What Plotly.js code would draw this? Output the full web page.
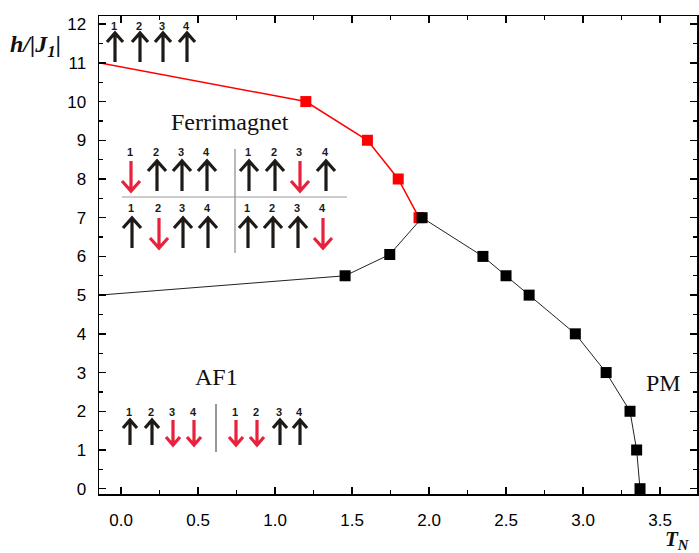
<!DOCTYPE html>
<html>
<head>
<meta charset="utf-8">
<script src="https://cdn.plot.ly/plotly-3.0.1.min.js"></script>
<style>html,body{margin:0;padding:0;background:#fff;}#chart{width:699px;height:553px;}</style>
</head>
<body>
<div id="chart"></div>
<script>
// ---- data ----
const redT   = [-0.143, 1.2, 1.6, 1.8, 1.935];
const redH   = [11, 10, 9, 8, 7];
const blackT = [-0.143, 1.455, 1.745, 1.955, 2.35, 2.5, 2.65, 2.95, 3.15, 3.305, 3.348, 3.37];
const blackH = [5, 5.5, 6.05, 7, 6, 5.5, 5, 4, 3, 2, 1, 0];
const siteLabels = ['1', '2', '3', '4'];
const topSpins = ['u', 'u', 'u', 'u'];
const ferriSpins = [['d','u','u','u'], ['u','u','d','u'], ['u','d','u','u'], ['u','u','u','d']];
const af1Spins = [['u','u','d','d'], ['d','d','u','u']];
const regionLabels = ['Ferrimagnet', 'AF1', 'PM'];

// ---- layout geometry (pixels) ----
const W = 699, H = 553;
const M = {l: 99, r: 2, t: 16, b: 59};
const PW = W - M.l - M.r, PH = H - M.t - M.b;
const px = v => (v - M.l) / PW;
const py = v => (H - M.b - v) / PH;

const BLACK = '#1e1a17', RED = '#e8223c';
const shapes = [], annotations = [];

function arrowGroup(spins, xs, yTop, yBot, numY, hw, hd) {
  spins.forEach((s, i) => {
    const x = xs[i];
    const up = s === 'u';
    const tip = up ? yTop : yBot, tail = up ? yBot : yTop;
    const d = up ? hd : -hd;
    const path = `M ${px(x)},${py(tail)} L ${px(x)},${py(tip)} M ${px(x - hw)},${py(tip + d)} L ${px(x)},${py(tip)} L ${px(x + hw)},${py(tip + d)}`;
    shapes.push({type: 'path', xref: 'paper', yref: 'paper', path: path,
      line: {color: up ? BLACK : RED, width: 3.2}});
    annotations.push({xref: 'paper', yref: 'paper', x: px(x - 1), y: py(numY), text: '<b>' + siteLabels[i] + '</b>',
      showarrow: false, xanchor: 'center', yanchor: 'middle',
      font: {family: 'Liberation Sans, Arial', size: 11, color: '#1a1a1a'}});
  });
}

arrowGroup(topSpins, [115, 140, 163, 187], 33, 62, 26, 8, 9);
arrowGroup(ferriSpins[0], [131, 157, 182, 207], 161, 191, 152, 9, 10);
arrowGroup(ferriSpins[1], [249, 275, 300, 326], 161, 191, 152, 9, 10);
arrowGroup(ferriSpins[2], [132, 159, 183, 208], 218, 248, 208, 9, 10);
arrowGroup(ferriSpins[3], [248, 273, 298, 323], 218, 248, 208, 9, 10);
arrowGroup(af1Spins[0], [130, 152, 173, 194], 420, 445, 412, 7, 8);
arrowGroup(af1Spins[1], [236, 257, 280, 300], 420, 445, 412, 7, 8);

function sep(x0, y0, x1, y1, color) {
  shapes.push({type: 'line', xref: 'paper', yref: 'paper', x0: px(x0), y0: py(y0), x1: px(x1), y1: py(y1),
    line: {color: color, width: 1.2}});
}
sep(235, 149, 235, 253, '#8a8a8a');
sep(122, 197, 347, 197, '#9a9a9a');
sep(216, 404, 216, 452, '#555555');

function label(text, x, y, size) {
  annotations.push({xref: 'paper', yref: 'paper', x: px(x), y: py(y), text: text, showarrow: false,
    xanchor: 'center', yanchor: 'middle', font: {family: 'Liberation Serif, Times New Roman', size: size, color: '#111'}});
}
label(regionLabels[0], 230, 122, 24);
label(regionLabels[1], 216, 377, 24);
label(regionLabels[2], 663, 383, 24);
label('<b><i>h/|J<sub>1</sub>|</i></b>', 35, 46, 24);
label('<b><i>T<sub>N</sub></i></b>', 677, 540, 21);

const traces = [
  {x: redT, y: redH, mode: 'lines+markers', type: 'scatter', showlegend: false, cliponaxis: false,
   line: {color: '#ff0000', width: 1.5},
   marker: {symbol: 'square', color: '#ff0000', opacity: 1, size: redT.map((v, i) => i === 0 ? 0 : 11), line: {width: 0}}},
  {x: blackT, y: blackH, mode: 'lines+markers', type: 'scatter', showlegend: false, cliponaxis: false,
   line: {color: '#222', width: 1},
   marker: {symbol: 'square', color: '#000', opacity: 1, size: blackT.map((v, i) => i === 0 ? 0 : 11), line: {width: 0}}}
];

const axisCommon = {
  showline: true, linecolor: '#000', linewidth: 1.5, mirror: 'allticks',
  ticks: 'inside', ticklen: 7, tickwidth: 1.5, tickcolor: '#000',
  showgrid: false, zeroline: false,
  tickfont: {family: 'Liberation Sans, Arial', size: 17, color: '#000'}
};

const layout = {
  width: W, height: H, margin: M,
  paper_bgcolor: '#fff', plot_bgcolor: '#fff',
  xaxis: Object.assign({}, axisCommon, {range: [-0.143, 3.74], tick0: 0, dtick: 0.5, tickformat: '.1f',
    ticklabelstandoff: 10,
    minor: {dtick: 0.25, ticks: 'inside', ticklen: 4, tickwidth: 1.2, tickcolor: '#000'}}),
  yaxis: Object.assign({}, axisCommon, {range: [-0.137, 12.21], tick0: 0, dtick: 1,
    ticklabelstandoff: 8,
    minor: {dtick: 0.5, ticks: 'inside', ticklen: 4, tickwidth: 1.2, tickcolor: '#000'}}),
  shapes: shapes, annotations: annotations
};

Plotly.newPlot('chart', traces, layout, {staticPlot: true, displayModeBar: false});
</script>
</body>
</html>
